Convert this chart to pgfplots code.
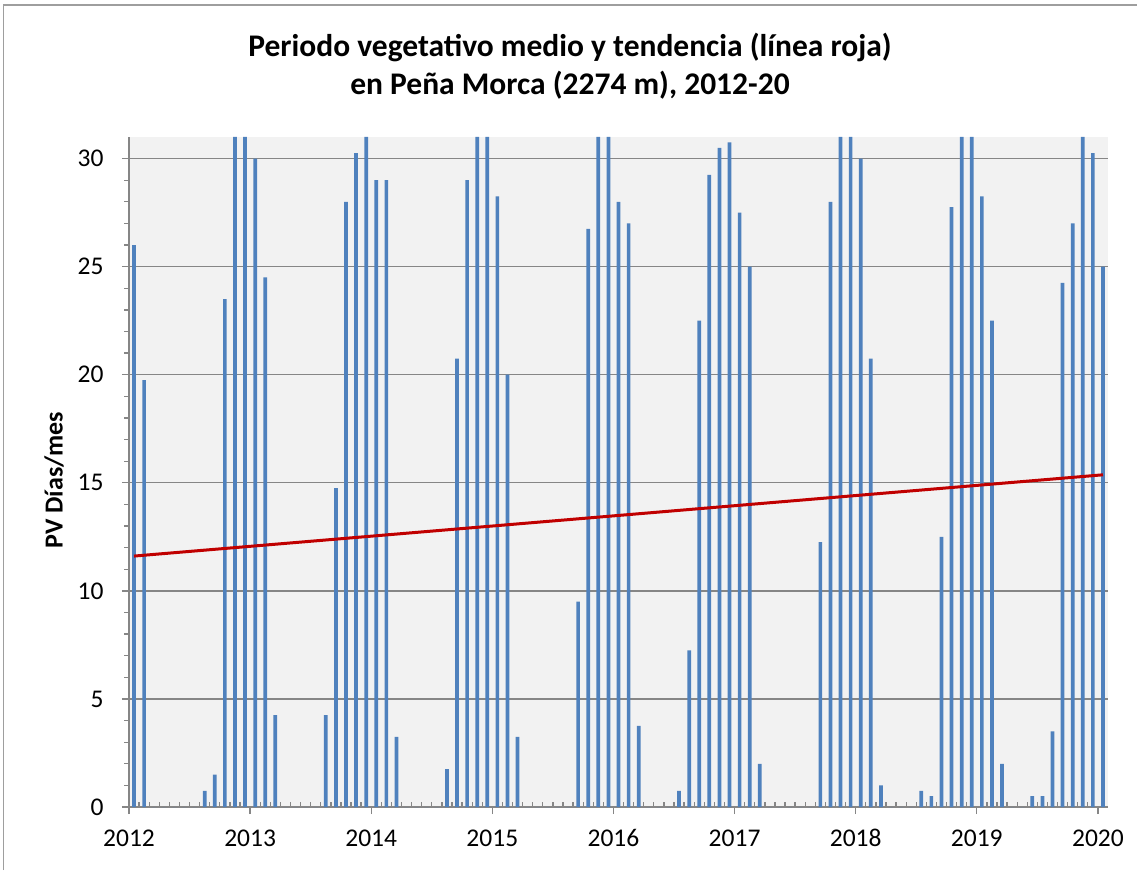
\documentclass[border=0pt]{standalone}
\usepackage{pgfplots}
\pgfplotsset{compat=1.18}
\usepackage{pgfplotstable}
\usepackage{fontspec}
\setmainfont{Carlito}
\definecolor{barblue}{HTML}{4F81BD}
\definecolor{trendred}{HTML}{C00000}
\definecolor{gridgray}{HTML}{868686}
\definecolor{plotbg}{HTML}{F2F2F2}
\pgfplotstableread{
x y
0.5 26
1.5 19.75
2.5 0
3.5 0
4.5 0
5.5 0
6.5 0
7.5 0.75
8.5 1.5
9.5 23.5
10.5 31
11.5 31
12.5 30
13.5 24.5
14.5 4.25
15.5 0
16.5 0
17.5 0
18.5 0
19.5 4.25
20.5 14.75
21.5 28
22.5 30.25
23.5 31
24.5 29
25.5 29
26.5 3.25
27.5 0
28.5 0
29.5 0
30.5 0
31.5 1.75
32.5 20.75
33.5 29
34.5 31
35.5 31
36.5 28.25
37.5 20
38.5 3.25
39.5 0
40.5 0
41.5 0
42.5 0
43.5 0
44.5 9.5
45.5 26.75
46.5 31
47.5 31
48.5 28
49.5 27
50.5 3.75
51.5 0
52.5 0
53.5 0
54.5 0.75
55.5 7.25
56.5 22.5
57.5 29.25
58.5 30.5
59.5 30.75
60.5 27.5
61.5 25
62.5 2
63.5 0
64.5 0
65.5 0
66.5 0
67.5 0
68.5 12.25
69.5 28
70.5 31
71.5 31
72.5 30
73.5 20.75
74.5 1
75.5 0
76.5 0
77.5 0
78.5 0.75
79.5 0.5
80.5 12.5
81.5 27.75
82.5 31
83.5 31
84.5 28.25
85.5 22.5
86.5 2
87.5 0
88.5 0
89.5 0.5
90.5 0.5
91.5 3.5
92.5 24.25
93.5 27
94.5 31
95.5 30.25
96.5 25
}\pvdata
\pgfplotstableread{
x y
0.5 11.61
96.5 15.37
}\trenddata
\begin{document}
\begin{tikzpicture}
\useasboundingbox (0pt,0pt) rectangle (1137pt,870pt);
\draw[gridgray!80, line width=1.2pt] (3.5pt,0pt) -- (3.5pt,865pt) -- (1137pt,865pt);
\begin{axis}[
  at={(129pt,63pt)}, anchor=south west,
  width=979pt, height=670pt, scale only axis,
  xmin=0, xmax=97, ymin=0, ymax=31,
  axis background/.style={fill=plotbg},
  axis x line*=bottom, axis y line*=left,
  axis line style={gridgray, line width=1.3pt},
  xtick={0,12,...,96},
  xticklabels={2012,2013,2014,2015,2016,2017,2018,2019,2020},
  minor x tick num=11,
  ytick={0,5,...,30},
  minor y tick num=4,
  tick align=outside,
  major tick length=7pt, minor tick length=5pt,
  tick style={gridgray, line width=1.3pt},
  every minor x tick/.append style={yshift=5pt},
  ymajorgrids,
  major grid style={gridgray, line width=1.3pt},
  tick label style={font=\fontsize{25.5}{30}\selectfont, black},
  yticklabel style={xshift=-15pt},
  xticklabel style={yshift=-12pt},
  /pgf/number format/assume math mode=true,
  clip=true,
]
\addplot[ybar, bar width=3.7pt, fill=barblue, draw=none, bar shift=0pt] table[x=x,y=y] {\pvdata};
\addplot[trendred, line width=3pt, no marks] table[x=x,y=y] {\trenddata};
\end{axis}
\node[font=\bfseries\fontsize{31.5}{38}\selectfont, align=center] at (570pt,870pt-66pt) {Periodo vegetativo medio y tendencia (línea roja)\\en Peña Morca (2274 m), 2012-20};
\node[font=\bfseries\fontsize{26}{30}\selectfont, rotate=90] at (54pt,870pt-480pt) {PV Días/mes};
\end{tikzpicture}
\end{document}
